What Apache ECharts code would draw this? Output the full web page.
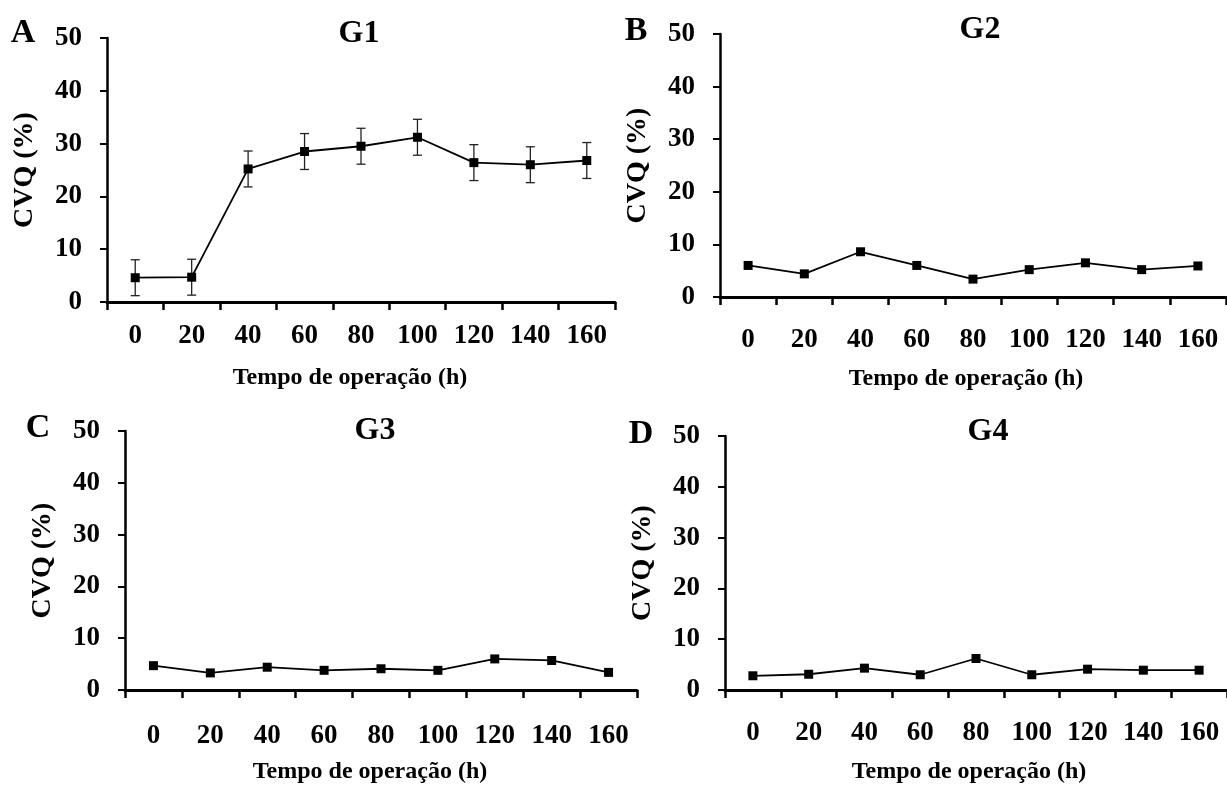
<!DOCTYPE html>
<html>
<head>
<meta charset="utf-8">
<script src="https://cdn.jsdelivr.net/npm/echarts@6/dist/echarts.min.js"></script>
<style>
  html, body { margin: 0; padding: 0; background: #fff; }
  #chart { width: 1227px; height: 785px; }
</style>
</head>
<body>
<div id="chart"></div>
<script>
// tempo de operação (h)
var hours = ['0', '20', '40', '60', '80', '100', '120', '140', '160'];
var yTicks = [0, 10, 20, 30, 40, 50];

// CVQ (%) por grupo
var g1 = [4.6, 4.7, 25.2, 28.5, 29.5, 31.2, 26.4, 26.0, 26.8];
var g1Err = [3.4, 3.4, 3.4, 3.4, 3.4, 3.4, 3.4, 3.4, 3.4];
var g2 = [6.0, 4.4, 8.6, 6.0, 3.4, 5.2, 6.5, 5.2, 5.9];
var g3 = [4.7, 3.3, 4.4, 3.8, 4.1, 3.8, 6.0, 5.7, 3.4];
var g4 = [2.8, 3.1, 4.3, 3.0, 6.2, 3.0, 4.1, 3.9, 3.9];

var panelNames = ['G1', 'G2', 'G3', 'G4'];
var panelLetters = ['A', 'B', 'C', 'D'];
var panelData = [g1, g2, g3, g4];

var FONT = '"Liberation Serif", "Times New Roman", serif';

var myChart = echarts.init(document.getElementById('chart'));

// layout of the four panels
var grids = [
	{ left: 107, top: 38, width: 508, height: 264 },
	{ left: 720, top: 34, width: 506, height: 263 },
	{ left: 125, top: 431, width: 512, height: 261 },
	{ left: 725, top: 436, width: 507, height: 255 }
];
var labelMargin = [21, 30, 33, 30];
var letterPos = [[23, 33], [636, 31], [38, 428], [641, 434]];
var titlePos = [[359, 34], [980, 30], [375, 431], [988, 432]];
var namePad = [22, 14, 22, 14];

var xAxes = [], yAxes = [], series = [], graphics = [];

for (var i = 0; i < 4; i++) {
	xAxes.push({
		type: 'category',
		gridIndex: i,
		data: hours,
		boundaryGap: true,
		name: 'Tempo de operação (h)',
		nameLocation: 'middle',
		nameGap: i == 0 ? 64 : 70,
		nameTextStyle: { fontFamily: FONT, fontWeight: 'bold', fontSize: 24, color: '#000', padding: [0, namePad[i], 0, 0] },
		axisLine: { lineStyle: { color: '#000', width: 3 } },
		axisTick: { show: true, alignWithLabel: false, inside: false, length: 8, lineStyle: { color: '#000', width: 2.5 } },
		axisLabel: { fontFamily: FONT, fontWeight: 'bold', fontSize: 27, color: '#000', margin: labelMargin[i], interval: 0 },
		splitLine: { show: false }
	});
	yAxes.push({
		type: 'value',
		gridIndex: i,
		min: 0,
		max: 50,
		interval: 10,
		name: 'CVQ (%)',
		nameLocation: 'middle',
		nameGap: 68,
		nameRotate: 90,
		nameTextStyle: { fontFamily: FONT, fontWeight: 'bold', fontSize: 28, color: '#000' },
		axisLine: { show: true, lineStyle: { color: '#000', width: 2.5 } },
		axisTick: { show: true, length: 7, lineStyle: { color: '#000', width: 2 } },
		axisLabel: { fontFamily: FONT, fontWeight: 'bold', fontSize: 27, color: '#000', margin: 25 },
		splitLine: { show: false }
	});
	series.push({
		type: 'line',
		xAxisIndex: i,
		yAxisIndex: i,
		data: panelData[i],
		symbol: 'rect',
		symbolSize: 9,
		z: 3,
		itemStyle: { color: '#000' },
		lineStyle: { color: '#000', width: 1.8 }
	});
	graphics.push({
		type: 'text', x: letterPos[i][0], y: letterPos[i][1],
		style: { text: panelLetters[i], font: 'bold 34px ' + FONT, fill: '#000', align: 'center', verticalAlign: 'middle' }
	});
	graphics.push({
		type: 'text', x: titlePos[i][0], y: titlePos[i][1],
		style: { text: panelNames[i], font: 'bold 32px ' + FONT, fill: '#000', align: 'center', verticalAlign: 'middle' }
	});
}

// error bars (só G1)
var errData = [];
for (var k = 0; k < g1.length; k++) {
	errData.push([k, g1[k] - g1Err[k], g1[k] + g1Err[k]]);
}
series.unshift({
	type: 'custom',
	xAxisIndex: 0,
	yAxisIndex: 0,
	z: 2,
	data: errData,
	renderItem: function(params, api) {
		var lo = api.coord([api.value(0), api.value(1)]);
		var hi = api.coord([api.value(0), api.value(2)]);
		var w = 4.5;
		var st = { stroke: '#222', lineWidth: 1.3 };
		return {
			type: 'group',
			children: [
				{ type: 'line', shape: { x1: lo[0], y1: lo[1], x2: hi[0], y2: hi[1] }, style: st },
				{ type: 'line', shape: { x1: lo[0] - w, y1: lo[1], x2: lo[0] + w, y2: lo[1] }, style: st },
				{ type: 'line', shape: { x1: hi[0] - w, y1: hi[1], x2: hi[0] + w, y2: hi[1] }, style: st }
			]
		};
	}
});

var option = {
	backgroundColor: '#fff',
	animation: false,
	grid: grids,
	xAxis: xAxes,
	yAxis: yAxes,
	series: series,
	graphic: graphics
};
myChart.setOption(option);
</script>
</body>
</html>
